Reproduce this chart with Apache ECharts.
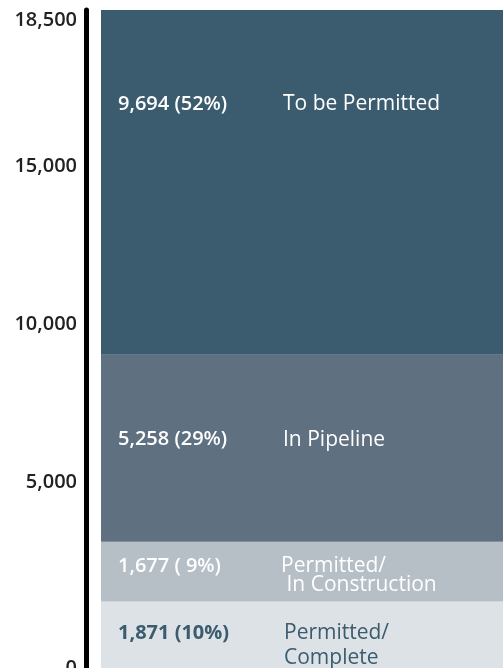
<!DOCTYPE html>
<html>

<head>
    <meta http-equiv="Content-Type" content="text/html; charset=utf-8" />
    <title>Permits</title>
    <style type="text/css">
        html,
        body {
            margin: 0;
            padding: 0;
            background: #fff;
        }

        #chart {
            width: 503px;
            height: 668px;
        }
    </style>
    <script src="https://cdn.jsdelivr.net/npm/echarts@6/dist/echarts.min.js"></script>
</head>

<body>
    <div id="chart"></div>
    <script type="text/javascript">
        // 数据
        var stages = ['Permitted/\nComplete', 'Permitted/\n In Construction', 'In Pipeline', 'To be Permitted'];
        var units = [1871, 1677, 5258, 9694];
        var shares = ['10%', ' 9%', '29%', '52%'];
        var colors = ['#dde2e6', '#b6bec6', '#5f7081', '#3b5b6e'];
        var tickLabels = ['0', '5,000', '10,000', '15,000', '18,500'];
        // 刻度文字在原图中的位置（按轴上数值）
        var tickAnchors = [0, 5229, 9672, 14114, 18219];

        var total = 18500;
        var font = '"Open Sans", Lato, sans-serif';

        // 每段文字的位置（相对每段左上角）
        var labelPos = [[17, 19], [17, 15], [17, 73], [17, 82]];
        var valueWidth = [166, 163, 165, 165];
        var lineH = [25, 19, 24, 24];

        var series = [];
        for (var i = 0; i < units.length; i++) {
            var dark = i === 0;
            var txtColor = dark ? '#3b5b6e' : '#ffffff';
            var lines = stages[i].split('\n');
            var text = '{v|' + units[i].toLocaleString('en-US') + ' (' + shares[i] + ')}{n|' + lines[0] + '}';
            for (var k = 1; k < lines.length; k++) {
                text += '\n{v|}{n|' + lines[k] + '}';
            }
            series.push({
                type: 'bar',
                stack: 'all',
                barWidth: '100%',
                data: [units[i]],
                itemStyle: { color: colors[i] },
                silent: true,
                label: {
                    show: true,
                    position: labelPos[i],
                    formatter: text,
                    rich: {
                        v: {
                            width: valueWidth[i],
                            fontFamily: font,
                            fontSize: 20,
                            fontWeight: dark ? 700 : 600,
                            color: txtColor,
                            lineHeight: lineH[i]
                        },
                        n: {
                            fontFamily: font,
                            fontSize: 21,
                            fontWeight: 500,
                            color: txtColor,
                            lineHeight: lineH[i]
                        }
                    }
                }
            });
        }

        var chart = echarts.init(document.getElementById('chart'));
        chart.setOption({
            animation: false,
            grid: { left: 101, right: 0, top: 10, bottom: 0, outerBoundsMode: 'none', containLabel: false },
            xAxis: {
                type: 'category',
                data: ['units'],
                show: false
            },
            yAxis: {
                type: 'value',
                min: 0,
                max: total,
                offset: 15,
                axisLine: { show: true, lineStyle: { color: '#000', width: 5 } },
                axisTick: { show: false },
                splitLine: { show: false },
                axisLabel: {
                    customValues: tickAnchors,
                    margin: 9,
                    fontFamily: font,
                    fontSize: 20,
                    fontWeight: 600,
                    color: '#222',
                    formatter: function (v) {
                        return tickLabels[tickAnchors.indexOf(v)];
                    }
                }
            },
            series: series
        });
    </script>
</body>

</html>
